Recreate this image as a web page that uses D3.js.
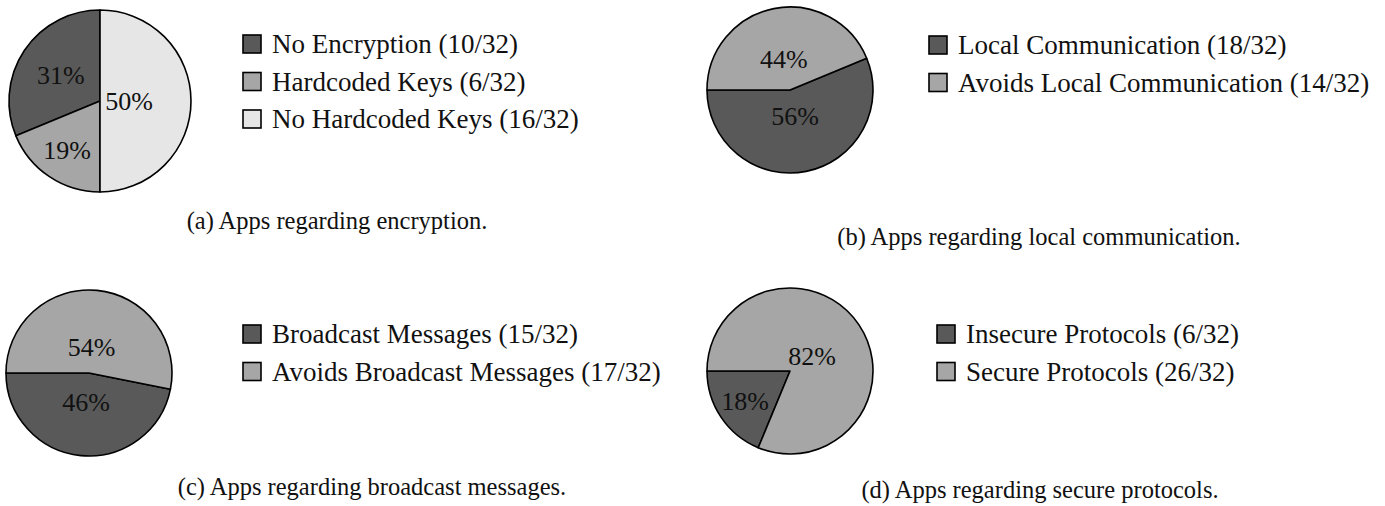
<!DOCTYPE html>
<html>
<head>
<meta charset="utf-8">
<script src="https://cdn.jsdelivr.net/npm/d3@7"></script>
<style>
  body { margin: 0; background: #fff; }
</style>
</head>
<body>
<svg width="1385" height="506"></svg>
<script>
// data
const encLabels = ["No Encryption (10/32)", "Hardcoded Keys (6/32)", "No Hardcoded Keys (16/32)"];
const encValues = [10, 6, 16];
const encPct = ["31%", "19%", "50%"];

const localLabels = ["Local Communication (18/32)", "Avoids Local Communication (14/32)"];
const localValues = [18, 14];
const localPct = ["56%", "44%"];

const bcastLabels = ["Broadcast Messages (15/32)", "Avoids Broadcast Messages (17/32)"];
const bcastValues = [15, 17];
const bcastPct = ["46%", "54%"];

const protoLabels = ["Insecure Protocols (6/32)", "Secure Protocols (26/32)"];
const protoValues = [6, 26];
const protoPct = ["18%", "82%"];

const captions = [
  "(a) Apps regarding encryption.",
  "(b) Apps regarding local communication.",
  "(c) Apps regarding broadcast messages.",
  "(d) Apps regarding secure protocols."
];

const fills = ["#595959", "#a6a6a6", "#e6e6e6"];

// layout for each panel
const panels = [
  { labels: encLabels, values: encValues, pct: encPct, cx: 100, cy: 101, r: 91, start: 0,
    lx: 243, ly: 44, cap: captions[0], capx: 337, capy: 220 },
  { labels: localLabels, values: localValues, pct: localPct, cx: 790, cy: 90, r: 83, start: 1.5 * Math.PI,
    lx: 929, ly: 45, cap: captions[1], capx: 1039, capy: 236 },
  { labels: bcastLabels, values: bcastValues, pct: bcastPct, cx: 89, cy: 373, r: 83, start: 1.5 * Math.PI,
    lx: 243, ly: 334, cap: captions[2], capx: 372, capy: 486 },
  { labels: protoLabels, values: protoValues, pct: protoPct, cx: 790, cy: 371, r: 83, start: 1.5 * Math.PI,
    lx: 937, ly: 334, cap: captions[3], capx: 1040, capy: 489 }
];

const svg = d3.select("svg");
const serif = '"Liberation Serif", "Times New Roman", serif';
const fontSize = 27;
const rowGap = 37.5;
const box = 18;

panels.forEach((p) => {
  // counter-clockwise pies
  const pie = d3.pie().sort(null).startAngle(p.start).endAngle(p.start - 2 * Math.PI);
  const arcs = pie(p.values);
  const arc = d3.arc().innerRadius(0).outerRadius(p.r);

  const g = svg.append("g").attr("transform", `translate(${p.cx},${p.cy})`);

  g.selectAll("path")
    .data(arcs)
    .enter()
    .append("path")
    .attr("d", arc)
    .attr("fill", (d, i) => fills[i])
    .attr("stroke", "#000")
    .attr("stroke-width", 1.6)
    .attr("stroke-linejoin", "round");

  // smaller slices put the number further out
  g.selectAll("text")
    .data(arcs)
    .enter()
    .append("text")
    .attr("transform", (d) => {
      const half = Math.abs(d.endAngle - d.startAngle) / 2 * 180 / Math.PI;
      const f = 0.85 - Math.min(half, 90) / 170;
      const la = d3.arc().innerRadius(f * p.r).outerRadius(f * p.r);
      return `translate(${la.centroid(d)})`;
    })
    .attr("text-anchor", "middle")
    .attr("dy", "0.35em")
    .attr("font-family", serif)
    .attr("font-size", 26)
    .attr("fill", "#111")
    .text((d, i) => p.pct[i]);

  // legend
  const leg = svg.append("g").attr("transform", `translate(${p.lx},${p.ly})`);
  const rows = leg.selectAll("g")
    .data(p.labels)
    .enter()
    .append("g")
    .attr("transform", (d, i) => `translate(0,${i * rowGap})`);

  rows.append("rect")
    .attr("x", 0)
    .attr("y", -box / 2)
    .attr("width", box)
    .attr("height", box)
    .attr("fill", (d, i) => fills[i])
    .attr("stroke", "#000")
    .attr("stroke-width", 1.6);

  rows.append("text")
    .attr("x", box + 11)
    .attr("dy", "0.35em")
    .attr("font-family", serif)
    .attr("font-size", fontSize)
    .attr("fill", "#111")
    .text((d) => d);

  svg.append("text")
    .attr("x", p.capx)
    .attr("y", p.capy)
    .attr("dy", "0.35em")
    .attr("text-anchor", "middle")
    .attr("font-family", serif)
    .attr("font-size", 24.5)
    .attr("fill", "#111")
    .text(p.cap);
});
</script>
</body>
</html>
